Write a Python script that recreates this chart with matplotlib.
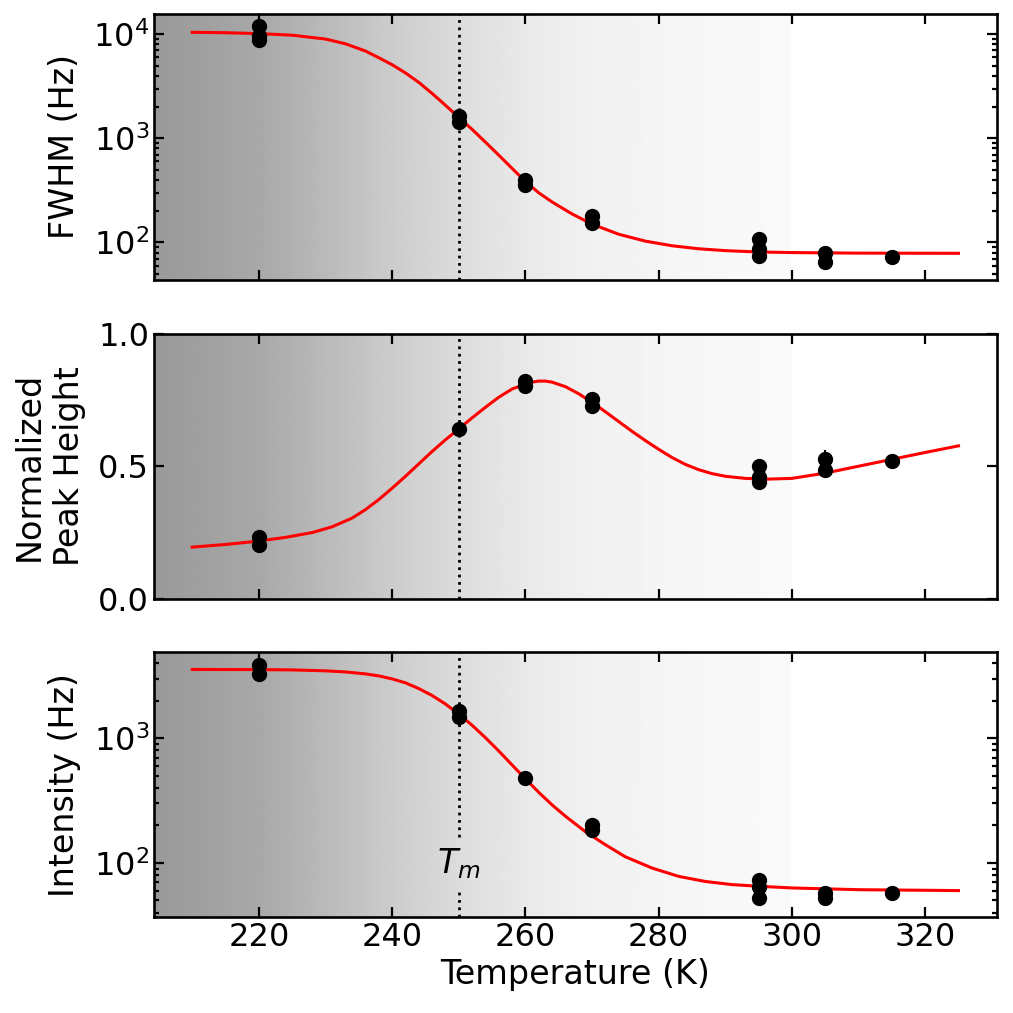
import matplotlib
matplotlib.use("Agg")
import matplotlib.pyplot as plt
import matplotlib.ticker as mtick
import numpy as np

# measured points (temperature in K)
temp_fwhm = [220, 220, 220, 250, 250, 260, 260, 270, 270, 295, 295, 295, 305, 305, 315]
fwhm = [11900, 9680, 8850, 1625, 1440, 400, 355, 179, 155, 107, 86, 74, 80, 65, 72]
fwhm_err = [900, 500, 500, 80, 80, 15, 15, 8, 8, 4, 4, 4, 3, 3, 3]

temp_height = [220, 220, 250, 260, 260, 270, 270, 295, 295, 295, 305, 305, 315]
height = [0.235, 0.204, 0.642, 0.824, 0.805, 0.755, 0.73, 0.503, 0.459, 0.44, 0.528, 0.487, 0.522]
height_err = [0.015, 0.015, 0.01, 0.01, 0.01, 0.012, 0.012, 0.012, 0.012, 0.012, 0.035, 0.012, 0.01]

temp_int = [220, 220, 250, 250, 260, 270, 270, 295, 295, 295, 305, 305, 315]
intensity = [3840, 3300, 1667, 1473, 479, 203, 183, 73, 64.6, 52, 57, 52.3, 57.8]
intensity_err = [350, 250, 120, 100, 20, 8, 8, 3, 3, 3, 3, 3, 3]

# fitted curves
fit_temp_fwhm = [210, 215, 220, 225, 230, 233, 236, 238, 240, 242, 244, 246, 248, 250,
                 252, 254, 256, 258, 260, 262, 264, 267, 270, 274, 278, 282, 286, 290,
                 295, 300, 310, 325]
fit_fwhm = [10450, 10350, 10150, 9800, 9000, 8100, 6900, 5950, 5100, 4250, 3450, 2700,
            2080, 1590, 1220, 920, 690, 515, 385, 300, 245, 188, 150, 120, 103, 93, 87,
            83.5, 81, 80, 79, 78.7]

fit_temp_height = [210, 215, 220, 224, 228, 231, 234, 236, 238, 240, 242, 244, 246, 248,
                   250, 252, 254, 256, 258, 260, 261, 262, 263, 264, 266, 268, 270, 272,
                   274, 276, 278, 280, 282, 284, 286, 288, 290, 293, 296, 300, 305, 310,
                   315, 320, 325]
fit_height = [0.195, 0.205, 0.218, 0.232, 0.25, 0.272, 0.305, 0.337, 0.375, 0.418, 0.463,
              0.51, 0.557, 0.601, 0.642, 0.684, 0.724, 0.762, 0.793, 0.812, 0.819, 0.823,
              0.823, 0.819, 0.802, 0.775, 0.743, 0.707, 0.67, 0.633, 0.598, 0.565, 0.534,
              0.508, 0.488, 0.473, 0.463, 0.455, 0.452, 0.455, 0.475, 0.501, 0.527, 0.553,
              0.578]

fit_temp_int = [210, 220, 225, 230, 233, 236, 238, 240, 242, 244, 246, 248, 250, 252,
                254, 256, 258, 260, 262, 264, 266, 269, 272, 275, 279, 283, 287, 291,
                295, 300, 310, 325]
fit_int = [3560, 3550, 3530, 3470, 3400, 3280, 3160, 2990, 2780, 2500, 2200, 1880, 1560,
           1270, 1010, 790, 610, 473, 368, 292, 237, 178, 140, 112, 91, 78, 71, 67, 65,
           63, 61, 60]

t_melt = 250

# background shading stops (K, grey level)
shade_temp = [204.25, 220, 240, 250, 260, 270, 280, 290, 300]
shade_level = [0.60, 0.66, 0.80, 0.865, 0.915, 0.945, 0.96, 0.972, 0.98]

plt.rcParams['font.family'] = 'DejaVu Sans'

fig = plt.figure(figsize=(10.13, 10.13), dpi=100)
left, width = 0.152, 0.832
ax1 = fig.add_axes([left, 0.724, width, 0.262])
ax2 = fig.add_axes([left, 0.409, width, 0.261])
ax3 = fig.add_axes([left, 0.095, width, 0.261])

xs = np.linspace(shade_temp[0], shade_temp[-1], 400)
grad = np.interp(xs, shade_temp, shade_level)[np.newaxis, :]

for ax in (ax1, ax2, ax3):
    ax.imshow(grad, cmap='gray', vmin=0, vmax=1, aspect='auto',
              extent=(shade_temp[0], shade_temp[-1], 0, 1),
              transform=ax.get_xaxis_transform(), zorder=0, interpolation='bilinear')
    ax.set_xlim(204.25, 330.75)
    ax.xaxis.set_major_locator(mtick.MultipleLocator(20))
    ax.tick_params(which='both', direction='in', top=True, right=True,
                   labelsize=23, width=1.6)
    ax.tick_params(which='major', length=7.5)
    ax.tick_params(which='minor', length=3.8)
    for s in ax.spines.values():
        s.set_linewidth(1.9)

# FWHM
ax1.plot(fit_temp_fwhm, fit_fwhm, color='red', lw=2.2, zorder=2)
ax1.errorbar(temp_fwhm, fwhm, yerr=fwhm_err, fmt='o', color='black', ms=10, elinewidth=1.5, zorder=3)
ax1.axvline(t_melt, color='black', ls=':', lw=2, zorder=1)
ax1.set_yscale('log')
ax1.set_ylim(44, 15600)
ax1.set_ylabel('FWHM (Hz)', fontsize=24, labelpad=9)
ax1.tick_params(labelbottom=False)

# normalized peak height
ax2.plot(fit_temp_height, fit_height, color='red', lw=2.2, zorder=2)
ax2.errorbar(temp_height, height, yerr=height_err, fmt='o', color='black', ms=10, elinewidth=1.5, zorder=3)
ax2.axvline(t_melt, color='black', ls=':', lw=2, zorder=1)
ax2.set_ylim(0, 1)
ax2.set_yticks([0.0, 0.5, 1.0])
ax2.set_ylabel('Normalized\nPeak Height', fontsize=24, linespacing=1.25, labelpad=9)
ax2.tick_params(labelbottom=False)

# intensity
ax3.plot(fit_temp_int, fit_int, color='red', lw=2.2, zorder=2)
ax3.errorbar(temp_int, intensity, yerr=intensity_err, fmt='o', color='black', ms=10, elinewidth=1.5, zorder=3)
ax3.axvline(t_melt, ymin=0.302, ymax=1, color='black', ls=':', lw=2, zorder=1)
ax3.axvline(t_melt, ymin=0, ymax=0.102, color='black', ls=':', lw=2, zorder=1)
ax3.text(t_melt, 0.2, '$T_m$', transform=ax3.get_xaxis_transform(), ha='center', va='center', fontsize=24)
ax3.set_yscale('log')
ax3.set_ylim(37, 4880)
ax3.set_ylabel('Intensity (Hz)', fontsize=24, labelpad=9)
ax3.set_xlabel('Temperature (K)', fontsize=24)

fig.align_ylabels([ax1, ax2, ax3])

fig.savefig('out.png', dpi=100)
